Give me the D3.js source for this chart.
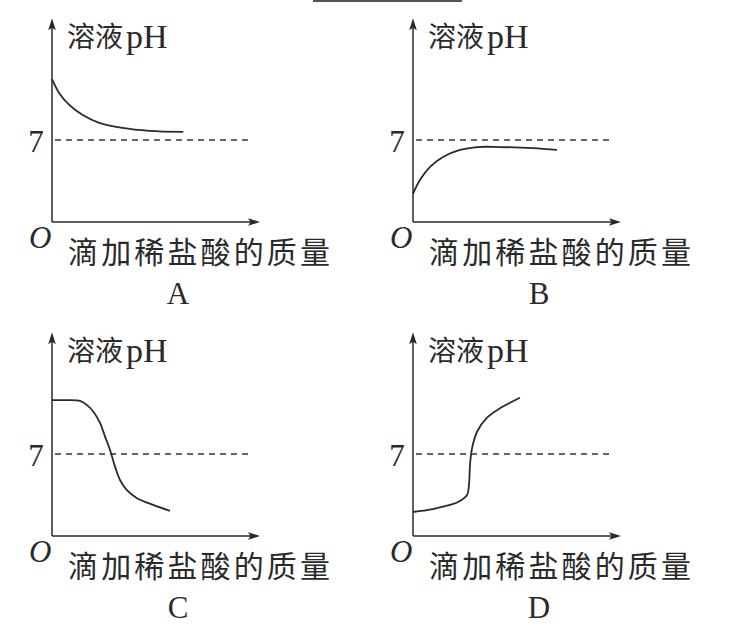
<!DOCTYPE html>
<html><head><meta charset="utf-8">
<script src="https://cdn.jsdelivr.net/npm/d3@7"></script>
<style>html,body{margin:0;padding:0;background:#fff;}svg{display:block;}</style>
</head><body>
<svg id="c" width="735" height="633"></svg>
<script>
// ---- data (x: mass of HCl added, arbitrary units 0..100; y: pH) ----
const panelLabels = ["A", "B", "C", "D"];
const yAxisTitleCJK = "溶液";
const yAxisTitleLatin = "pH";
const xAxisTitle = "滴加稀盐酸的质量";
const originLabel = "O";
const refTick = 7;

const curveA_x = [0, 3.5, 8.3, 14.6, 22.7, 33.8, 46.8, 63.1];
const curveA_y = [12.2, 11.0, 10.0, 9.15, 8.46, 8.03, 7.78, 7.69];

const curveB_x = [0, 3.4, 8.2, 14.4, 22.6, 30.8, 41.8, 57.7, 69.2];
const curveB_y = [2.4, 3.6, 4.7, 5.55, 6.15, 6.4, 6.4, 6.3, 6.15];

const curveC_x = [0, 7, 13.5, 16.7, 19.9, 23.1, 25.5, 27.9, 30.3, 32.7, 35.9, 40.7, 48.6, 56.7];
const curveC_y = [11.6, 11.6, 11.53, 11.19, 10.61, 9.65, 8.48, 7.34, 5.92, 4.78, 3.93, 3.25, 2.65, 2.15];

const curveD_x = [0, 6.7, 14.4, 21.6, 26.0, 26.9, 27.4, 28.4, 30.8, 35.6, 41.8, 51.4];
const curveD_y = [2.05, 2.2, 2.5, 2.9, 3.5, 4.35, 6.06, 7.5, 8.9, 10.1, 10.9, 11.8];

const xAxisMax = 100, yAxisMax = 17.4, refLineEnd = 94.5;

// ---- layout ----
const svg = d3.select("#c");
const ink = "#2a2a2a";
const origins = [[52, 222], [413, 222], [52, 536], [413, 536]];
const curves = [
  d3.zip(curveA_x, curveA_y),
  d3.zip(curveB_x, curveB_y),
  d3.zip(curveC_x, curveC_y),
  d3.zip(curveD_x, curveD_y)
];

const x = d3.scaleLinear().domain([0, 100]).range([0, 208]);
const y = d3.scaleLinear().domain([0, 14]).range([0, -164]);
const line = d3.line().x(d => x(d[0])).y(d => y(d[1])).curve(d3.curveCatmullRom.alpha(0.5));

// decorative top rule (cropped underline from the source page)
svg.append("line").attr("x1", 313).attr("x2", 462).attr("y1", 1).attr("y2", 1)
  .attr("stroke", "#555").attr("stroke-width", 2);

const cjk = "'Noto Sans CJK SC', 'Noto Sans CJK JP', sans-serif";
const serif = "'Liberation Serif', 'DejaVu Serif', serif";

origins.forEach((o, i) => {
  const g = svg.append("g").attr("transform", `translate(${o[0]},${o[1]})`);
  const yTop = y(yAxisMax), xEnd = x(xAxisMax);
  // axes
  g.append("line").attr("x1", 0).attr("y1", 0).attr("x2", 0).attr("y2", yTop + 8)
    .attr("stroke", ink).attr("stroke-width", 1.5);
  g.append("line").attr("x1", 0).attr("y1", 0).attr("x2", xEnd - 8).attr("y2", 0)
    .attr("stroke", ink).attr("stroke-width", 1.5);
  g.append("path").attr("d", `M0,${yTop} L-3.8,${yTop + 12} L0,${yTop + 9.5} L3.8,${yTop + 12} Z`).attr("fill", ink);
  g.append("path").attr("d", `M${xEnd},0 L${xEnd - 12},-3.8 L${xEnd - 9.5},0 L${xEnd - 12},3.8 Z`).attr("fill", ink);

  // pH = 7 reference
  g.append("line").attr("x1", 3).attr("x2", x(refLineEnd))
    .attr("y1", y(refTick)).attr("y2", y(refTick))
    .attr("stroke", "#333").attr("stroke-width", 1.5).attr("stroke-dasharray", "6,5");
  g.append("text").attr("x", -16).attr("y", y(refTick) + 12).attr("text-anchor", "middle")
    .attr("font-family", serif).attr("font-size", 31).attr("fill", ink).text(refTick);

  // curve
  g.append("path").datum(curves[i]).attr("d", line)
    .attr("fill", "none").attr("stroke", ink).attr("stroke-width", 1.8);

  // titles
  g.append("text").attr("x", 15).attr("y", -175)
    .attr("font-family", cjk).attr("font-size", 28).attr("fill", ink).text(yAxisTitleCJK);
  g.append("text").attr("x", 74).attr("y", -174)
    .attr("font-family", serif).attr("font-size", 34).attr("fill", ink).text(yAxisTitleLatin);
  g.append("text").attr("x", -23).attr("y", 26)
    .attr("font-family", serif).attr("font-style", "italic").attr("font-size", 31).attr("fill", ink).text(originLabel);
  g.append("text").attr("x", 16).attr("y", 41)
    .attr("font-family", cjk).attr("font-size", 30).attr("fill", ink)
    .attr("textLength", 262).attr("lengthAdjust", "spacing").text(xAxisTitle);
  g.append("text").attr("x", 126).attr("y", 82).attr("text-anchor", "middle")
    .attr("font-family", serif).attr("font-size", 31).attr("fill", ink).text(panelLabels[i]);
});
</script>
</body></html>
